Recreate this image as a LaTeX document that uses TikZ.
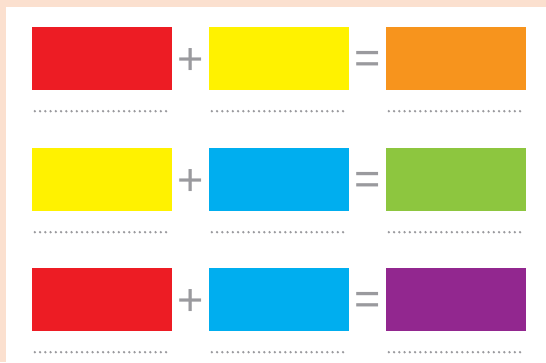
\documentclass[tikz,border=0pt]{standalone}
\usepackage{fontspec}
\setmainfont{Liberation Sans}
\usepackage{xcolor}
\usepackage{tikz}
\usetikzlibrary{positioning, calc}
\definecolor{paintred}{RGB}{237, 28, 36}
\definecolor{paintyellow}{RGB}{255, 242, 0}
\definecolor{paintorange}{RGB}{247, 148, 29}
\definecolor{paintcyan}{RGB}{0, 174, 239}
\definecolor{paintgreen}{RGB}{141, 198, 63}
\definecolor{paintpurple}{RGB}{146, 39, 143}
\definecolor{framepeach}{RGB}{251, 224, 207}
\definecolor{signgray}{RGB}{154, 154, 158}

\begin{document}
\begin{tikzpicture}[
    x=1pt, y=-1pt,
    colorbox/.style={rectangle, inner sep=0pt, minimum width=140pt, minimum height=63pt},
    signnode/.style={inner sep=0pt, text=signgray, font=\fontsize{45}{45}\selectfont},
    answerline/.style={draw=signgray, line width=2.6pt, line cap=round, dash pattern=on 0pt off 5.25pt}
]
    \useasboundingbox (0,0) rectangle (546,362);
    \fill[framepeach] (0,0) rectangle (546,362);
    \fill[white] (6,7) rectangle (546,362);

    % row 1: red + yellow = orange
    \node[colorbox, fill=paintred] (a1) at (102, 58.5) {};
    \node[signnode] (plus1) at (190.5, 62) {+};
    \node[colorbox, fill=paintyellow] (b1) at (279, 58.5) {};
    \node[signnode] (eq1) at (367.5, 62) {=};
    \node[colorbox, fill=paintorange] (c1) at (456, 58.5) {};

    % row 2: yellow + cyan = green
    \node[colorbox, fill=paintyellow] (a2) at (102, 179.5) {};
    \node[signnode] (plus2) at (190.5, 183) {+};
    \node[colorbox, fill=paintcyan] (b2) at (279, 179.5) {};
    \node[signnode] (eq2) at (367.5, 183) {=};
    \node[colorbox, fill=paintgreen] (c2) at (456, 179.5) {};

    % row 3: red + cyan = purple
    \node[colorbox, fill=paintred] (a3) at (102, 299.5) {};
    \node[signnode] (plus3) at (190.5, 303) {+};
    \node[colorbox, fill=paintcyan] (b3) at (279, 299.5) {};
    \node[signnode] (eq3) at (367.5, 303) {=};
    \node[colorbox, fill=paintpurple] (c3) at (456, 299.5) {};

    % answer lines
    \draw[answerline] ($(a1.south west)+(3,21)$) -- ($(a1.south east)+(-4,21)$);
    \draw[answerline] ($(b1.south west)+(3,21)$) -- ($(b1.south east)+(-4,21)$);
    \draw[answerline] ($(c1.south west)+(3,21)$) -- ($(c1.south east)+(-4,21)$);
    \draw[answerline] ($(a2.south west)+(3,21)$) -- ($(a2.south east)+(-4,21)$);
    \draw[answerline] ($(b2.south west)+(3,21)$) -- ($(b2.south east)+(-4,21)$);
    \draw[answerline] ($(c2.south west)+(3,21)$) -- ($(c2.south east)+(-4,21)$);
    \draw[answerline] ($(a3.south west)+(3,21)$) -- ($(a3.south east)+(-4,21)$);
    \draw[answerline] ($(b3.south west)+(3,21)$) -- ($(b3.south east)+(-4,21)$);
    \draw[answerline] ($(c3.south west)+(3,21)$) -- ($(c3.south east)+(-4,21)$);
\end{tikzpicture}
\end{document}
